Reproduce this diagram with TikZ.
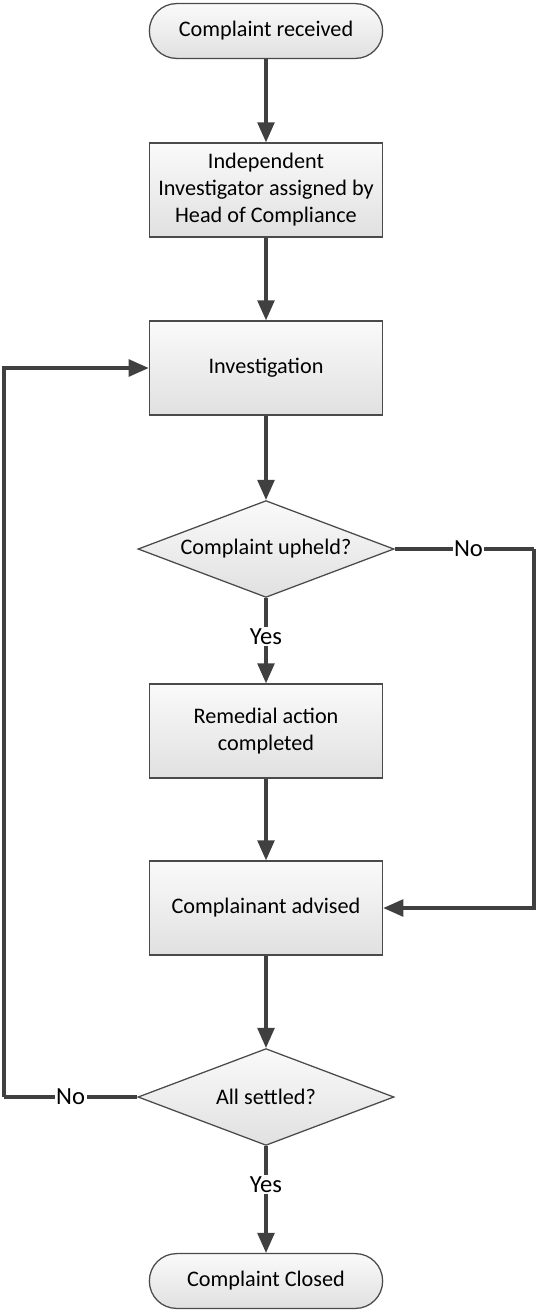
\documentclass[tikz,border=0pt]{standalone}
\usepackage{fontspec}
\setmainfont{Carlito}
\usetikzlibrary{shapes.geometric,arrows.meta}

\definecolor{edge}{HTML}{404040}
\definecolor{border}{HTML}{4A4A4A}

\tikzset{
  shapebase/.style={draw=border, line width=0.9pt, top color=gray!4, bottom color=gray!24,
    font=\fontsize{15.8}{19.2}\selectfont, align=center, inner sep=2pt},
  term/.style={shapebase, rectangle, rounded corners=0.68cm, minimum width=5.83cm, minimum height=1.37cm},
  box/.style={shapebase, rectangle, minimum width=5.83cm, minimum height=2.35cm},
  decision/.style={shapebase, diamond, aspect=2.64, minimum width=6.4cm, minimum height=2.42cm, inner sep=0pt},
  line/.style={draw=edge, line width=2.2pt},
  flow/.style={line, -{Triangle[length=0.5cm,width=0.42cm]}},
  lbl/.style={fill=white, inner sep=1pt, font=\fontsize{17.5}{20}\selectfont}
}

\begin{document}
\begin{tikzpicture}[x=0.025cm, y=-0.025cm]
\useasboundingbox (0,0) rectangle (536,1310);

\node[term] (received) at (266,31) {Complaint received};
\node[box] (assign) at (266,190) {Independent\\Investigator assigned by\\Head of Compliance};
\node[box] (invest) at (266,368) {Investigation};
\node[decision] (upheld) at (266,549) {Complaint upheld?};
\node[box] (remedial) at (266,731) {Remedial action\\completed};
\node[box] (advised) at (266,908) {Complainant advised};
\node[decision] (settled) at (266,1097) {All settled?};
\node[term] (closed) at (266,1281) {Complaint Closed};

\draw[flow] (received) -- (assign);
\draw[flow] (assign) -- (invest);
\draw[flow] (invest) -- (upheld);
\draw[flow] (upheld) -- node[lbl, pos=0.45] {Yes} (remedial);
\draw[flow] (remedial) -- (advised);
\draw[flow] (advised) -- (settled);
\draw[flow] (settled) -- node[lbl, pos=0.36] {Yes} (closed);

% the two loops
\coordinate (noright) at (534,549);
\coordinate (noleft) at (4,1097);
\draw[line] (upheld.east) -- node[lbl, pos=0.53] {No} (noright);
\draw[flow] (noright) |- (advised.east);
\draw[line] (settled.west) -- node[lbl] {No} (noleft);
\draw[flow] (noleft) |- (invest.west);
\end{tikzpicture}
\end{document}
